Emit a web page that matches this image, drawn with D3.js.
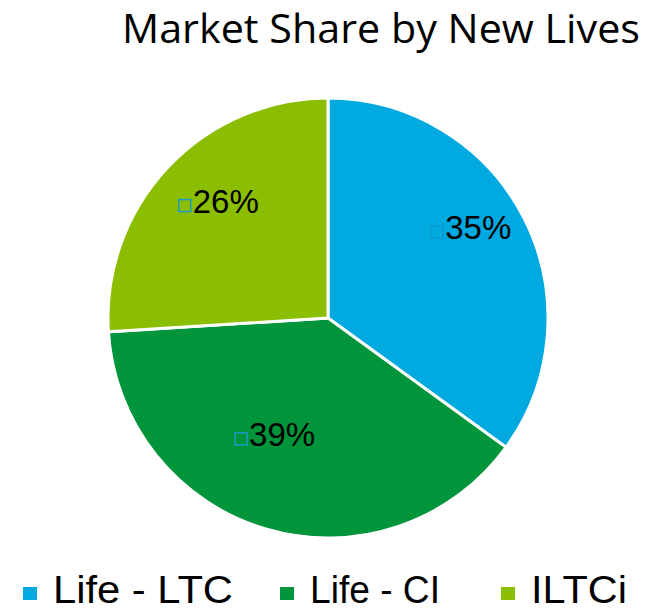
<!DOCTYPE html>
<html>
<head>
<meta charset="utf-8">
<script src="https://cdn.jsdelivr.net/npm/d3@7"></script>
<style>
  body { margin: 0; background: #fff; }
</style>
</head>
<body>
<div id="chart"></div>
<script>
// chart data
var categories = ["Life - LTC", "Life - CI", "ILTCi"];
var shares = [35, 39, 26];
var colors = ["#00A9E0", "#00953A", "#8BBD00"];
var title = "Market Share by New Lives";

var width = 654, height = 612;
var cx = 328, cy = 318, radius = 220;

// the data labels were dragged a bit by hand in the original
var labelNudge = [[8, -9], [-8, -20], [5, 0]];

var svg = d3.select("#chart").append("svg")
  .attr("width", width)
  .attr("height", height);

// title
svg.append("text")
  .attr("x", 122)
  .attr("y", 43)
  .attr("font-family", "'Open Sans', sans-serif")
  .attr("font-size", 41)
  .attr("fill", "#000")
  .attr("textLength", 518)
  .attr("lengthAdjust", "spacingAndGlyphs")
  .text(title);

var pie = d3.pie().sort(null).value(function(d) { return d; });
var arc = d3.arc().innerRadius(0).outerRadius(radius);
var labelArc = d3.arc().innerRadius(radius * 0.7).outerRadius(radius * 0.7);

var g = svg.append("g").attr("transform", "translate(" + cx + "," + cy + ")");

var arcs = pie(shares);

g.selectAll("path")
  .data(arcs)
  .enter()
  .append("path")
  .attr("d", arc)
  .attr("fill", function(d, i) { return colors[i]; })
  .attr("stroke", "#fff")
  .attr("stroke-width", 3);

// data labels with the small marker box in front
var labels = g.selectAll("g.lbl")
  .data(arcs)
  .enter()
  .append("g")
  .attr("class", "lbl")
  .attr("transform", function(d, i) {
    var c = labelArc.centroid(d);
    return "translate(" + (c[0] - 28 + labelNudge[i][0]) + "," + (c[1] + labelNudge[i][1]) + ")";
  });

labels.append("rect")
  .attr("x", -14)
  .attr("y", -13)
  .attr("width", 12)
  .attr("height", 12)
  .attr("fill", "none")
  .attr("stroke", function(d, i) { return i == 0 ? "#0A9BD0" : "#1A9CC8"; })
  .attr("stroke-width", 1.5);

labels.append("text")
  .attr("x", 0)
  .attr("y", 0)
  .attr("font-family", "'Liberation Sans', Arial, sans-serif")
  .attr("font-size", 33)
  .attr("fill", "#000")
  .text(function(d) { return d.data + "%"; });

// legend
var legendX = [23, 280, 501];
var legend = svg.selectAll("g.leg")
  .data(categories)
  .enter()
  .append("g")
  .attr("class", "leg")
  .attr("transform", function(d, i) { return "translate(" + legendX[i] + ",587)"; });

legend.append("rect")
  .attr("width", 14)
  .attr("height", 13)
  .attr("fill", function(d, i) { return colors[i]; });

legend.append("text")
  .attr("x", 30)
  .attr("y", 16)
  .attr("font-family", "'Liberation Sans', Arial, sans-serif")
  .attr("font-size", 38)
  .attr("textLength", function(d, i) { return [180, 130, 96][i]; })
  .attr("lengthAdjust", "spacingAndGlyphs")
  .attr("fill", "#000")
  .text(function(d) { return d; });
</script>
</body>
</html>
